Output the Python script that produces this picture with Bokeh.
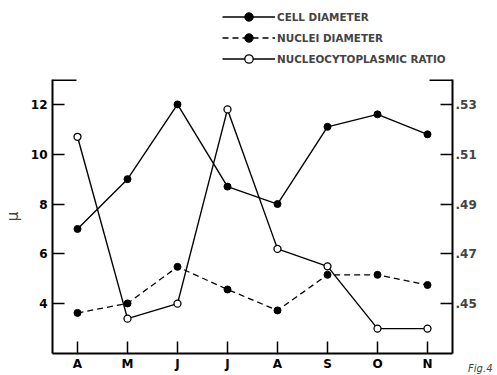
from bokeh.plotting import figure
from bokeh.layouts import column
from bokeh.models import LinearAxis, Range1d, FixedTicker, Legend, LegendItem, Title
from bokeh.embed import file_html
from bokeh.resources import INLINE

months = ["A", "M", "J", "J", "A", "S", "O", "N"]
cell_diameter = [7.0, 9.0, 12.0, 8.7, 8.0, 11.1, 11.6, 10.8]
nuclei_diameter = [3.63, 4.01, 5.48, 4.57, 3.73, 5.16, 5.16, 4.75]
nc_ratio = [0.517, 0.444, 0.450, 0.528, 0.472, 0.465, 0.440, 0.440]
left_ticks = [4, 6, 8, 10, 12]
right_ticks = [0.45, 0.47, 0.49, 0.51, 0.53]
right_labels = [".45", ".47", ".49", ".51", ".53"]
series_names = ["CELL DIAMETER", "NUCLEI DIAMETER", "NUCLEOCYTOPLASMIC RATIO"]

xs = list(range(len(months)))
FONT = "DejaVu Sans"

# ---------- legend strip (top) ----------
lg = figure(width=494, height=74, x_range=Range1d(-0.5, 7.5), y_range=Range1d(2, 13),
            x_axis_type=None, y_axis_type=None, output_backend="svg", toolbar_location=None,
            min_border=0)
lg.grid.visible = False
lg.outline_line_alpha = 0
d1 = lg.line(xs, cell_diameter, line_color="black", line_width=1.4, visible=False)
e1 = lg.scatter(xs, cell_diameter, size=7, fill_color="black", line_color="black", visible=False)
d2 = lg.line(xs, nuclei_diameter, line_color="black", line_width=1.3, line_dash="6 4", visible=False)
e2 = lg.scatter(xs, nuclei_diameter, size=7, fill_color="black", line_color="black", visible=False)
d3 = lg.line(xs, nc_ratio, line_color="black", line_width=1.4, visible=False)
e3 = lg.scatter(xs, nc_ratio, size=7, fill_color="white", line_color="black", line_width=1.3,
                visible=False)
legend = Legend(items=[
    LegendItem(label=series_names[0], renderers=[d1, e1]),
    LegendItem(label=series_names[1], renderers=[d2, e2]),
    LegendItem(label=series_names[2], renderers=[d3, e3]),
], location=(170, 5), glyph_width=53, glyph_height=21, label_height=21, spacing=0,
    label_standoff=2, padding=0, margin=0, border_line_alpha=0, background_fill_alpha=0,
    inactive_fill_alpha=0, click_policy="none",
    label_text_font=FONT, label_text_font_size="10.4px", label_text_font_style="bold")
lg.add_layout(legend, "center")

# ---------- main chart ----------
p = figure(width=494, height=301, x_range=Range1d(-0.5, 7.5), y_range=Range1d(2, 13),
           output_backend="svg", toolbar_location=None,
           min_border_left=51, min_border_right=42, min_border_top=5, min_border_bottom=22,
           y_axis_label="μ")
p.extra_y_ranges = {"ratio": Range1d(0.43, 0.54)}
p.grid.visible = False
p.outline_line_alpha = 0
p.background_fill_color = "white"
p.border_fill_color = "white"

for ax in [p.xaxis[0], p.yaxis[0]]:
    ax.axis_line_width = 2
    ax.major_tick_in = 12
    ax.major_tick_out = 0
    ax.major_tick_line_width = 1.5
    ax.minor_tick_line_alpha = 0
    ax.major_label_text_font = FONT
    ax.major_label_text_font_style = "bold"
    ax.major_label_text_font_size = "12px"
    ax.major_label_text_color = "black"

p.xaxis.ticker = FixedTicker(ticks=xs)
p.xaxis.major_label_overrides = {i: m for i, m in zip(xs, months)}
p.xaxis.major_label_standoff = 3
p.yaxis.ticker = FixedTicker(ticks=left_ticks)
p.yaxis.major_label_standoff = 5
p.yaxis.axis_label_text_font = FONT
p.yaxis.axis_label_text_font_style = "normal"
p.yaxis.axis_label_text_font_size = "15px"
p.yaxis.axis_label_standoff = 6

rax = LinearAxis(y_range_name="ratio", ticker=FixedTicker(ticks=right_ticks),
                 major_label_overrides={t: l for t, l in zip(right_ticks, right_labels)})
rax.axis_line_width = 2
rax.major_tick_in = 12
rax.major_tick_out = 0
rax.major_tick_line_width = 1.5
rax.minor_tick_line_alpha = 0
rax.major_label_text_font = FONT
rax.major_label_text_font_style = "bold"
rax.major_label_text_font_size = "12px"
rax.major_label_standoff = 3
p.add_layout(rax, "right")

# broken top border
p.segment(x0=[-0.5, 7.04], y0=[13, 13], x1=[-0.02, 7.5], y1=[13, 13], line_color="black", line_width=3)

p.line(xs, cell_diameter, line_color="black", line_width=1.4)
p.scatter(xs, cell_diameter, size=7, fill_color="black", line_color="black")
p.line(xs, nuclei_diameter, line_color="black", line_width=1.3, line_dash="6 4")
p.scatter(xs, nuclei_diameter, size=7, fill_color="black", line_color="black")
p.line(xs, nc_ratio, line_color="black", line_width=1.4, y_range_name="ratio")
p.scatter(xs, nc_ratio, size=7, fill_color="white", line_color="black", line_width=1.3,
          y_range_name="ratio")

fig_title = Title(text="Fig.4", align="right", offset=-40, standoff=-22,
                  text_font=FONT, text_font_style="italic", text_font_size="10px",
                  vertical_align="top")
p.add_layout(fig_title, "below")

layout = column(lg, p, spacing=0)
open("out.html", "w").write(file_html(layout, INLINE))
